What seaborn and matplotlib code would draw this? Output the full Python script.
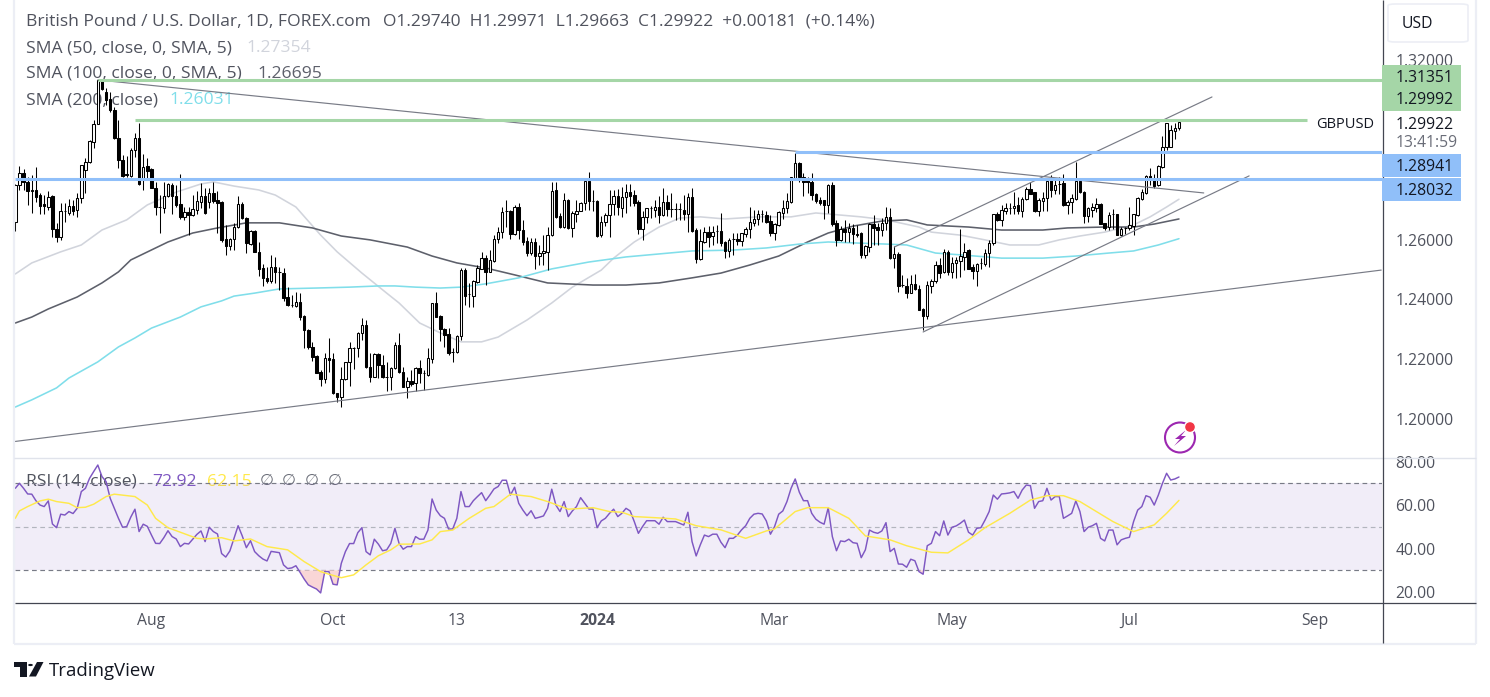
import matplotlib
matplotlib.use("Agg")
import matplotlib.pyplot as plt
from matplotlib.lines import Line2D
from matplotlib.patches import Circle, Ellipse, FancyBboxPatch, Polygon
import numpy as np
import seaborn as sns

# ---------- data ----------
opens = [
1.2660,1.2781,1.2822,1.2794,1.2764,1.2766,1.2749,1.2719,1.2710,1.2746,
1.2635,1.2610,1.2696,1.2690,1.2713,1.2699,1.2738,1.2833,1.2858,1.2928,
1.2986,1.3132,1.3092,1.3069,1.3034,1.2939,1.2866,1.2819,1.2814,1.2898,
1.2939,1.2800,1.2846,1.2836,1.2774,1.2708,1.2705,1.2746,1.2783,1.2746,
1.2718,1.2674,1.2691,1.2682,1.2699,1.2727,1.2746,1.2727,1.2755,1.2733,
1.2727,1.2601,1.2577,1.2601,1.2643,1.2718,1.2671,1.2586,1.2630,1.2560,
1.2506,1.2473,1.2463,1.2507,1.2491,1.2487,1.2409,1.2382,1.2378,1.2390,
1.2345,1.2298,1.2240,1.2211,1.2158,1.2134,1.2203,1.2201,1.2086,1.2075,
1.2134,1.2190,1.2236,1.2236,1.2287,1.2315,1.2173,1.2142,1.2218,1.2181,
1.2142,1.2142,1.2170,1.2248,1.2158,1.2108,1.2127,1.2119,1.2170,1.2153,
1.2147,1.2201,1.2387,1.2345,1.2300,1.2284,1.2225,1.2225,1.2276,1.2498,
1.2418,1.2412,1.2459,1.2503,1.2537,1.2493,1.2529,1.2601,1.2624,1.2694,
1.2696,1.2619,1.2708,1.2632,1.2596,1.2554,1.2591,1.2546,1.2554,1.2560,
1.2615,1.2766,1.2679,1.2641,1.2733,1.2638,1.2686,1.2695,1.2722,1.2796,
1.2730,1.2729,1.2614,1.2660,1.2682,1.2718,1.2746,1.2707,1.2742,1.2758,
1.2750,1.2726,1.2637,1.2674,1.2705,1.2699,1.2708,1.2683,1.2725,1.2703,
1.2703,1.2702,1.2699,1.2685,1.2742,1.2632,1.2534,1.2593,1.2627,1.2612,
1.2629,1.2629,1.2591,1.2563,1.2601,1.2602,1.2594,1.2619,1.2635,1.2655,
1.2668,1.2684,1.2683,1.2663,1.2621,1.2649,1.2690,1.2705,1.2727,1.2805,
1.2856,1.2811,1.2800,1.2794,1.2753,1.2733,1.2731,1.2716,1.2783,1.2655,
1.2599,1.2636,1.2624,1.2638,1.2618,1.2621,1.2549,1.2575,1.2651,1.2641,
1.2632,1.2655,1.2675,1.2538,1.2552,1.2449,1.2446,1.2423,1.2452,1.2434,
1.2367,1.2346,1.2446,1.2460,1.2515,1.2490,1.2560,1.2490,1.2523,1.2528,
1.2542,1.2565,1.2509,1.2496,1.2522,1.2520,1.2556,1.2589,1.2684,1.2665,
1.2696,1.2706,1.2704,1.2715,1.2696,1.2735,1.2769,1.2758,1.2696,1.2730,
1.2738,1.2799,1.2765,1.2786,1.2788,1.2715,1.2726,1.2737,1.2797,1.2760,
1.2679,1.2699,1.2704,1.2718,1.2654,1.2641,1.2684,1.2685,1.2615,1.2639,
1.2638,1.2646,1.2682,1.2735,1.2757,1.2812,1.2799,1.2782,1.2844,1.2908,
1.2910,1.2964,1.2974]
highs = [
1.2786,1.2846,1.2835,1.2811,1.2816,1.2842,1.2755,1.2749,1.2761,1.2749,
1.2655,1.2722,1.2722,1.2735,1.2733,1.2755,1.2850,1.2872,1.2933,1.3000,
1.3135,1.3135,1.3106,1.3095,1.3045,1.3000,1.2883,1.2878,1.2906,1.2956,
1.2991,1.2887,1.2872,1.2841,1.2794,1.2749,1.2792,1.2788,1.2788,1.2783,
1.2820,1.2710,1.2710,1.2749,1.2761,1.2788,1.2772,1.2772,1.2794,1.2761,
1.2730,1.2649,1.2604,1.2655,1.2746,1.2727,1.2677,1.2632,1.2632,1.2593,
1.2520,1.2510,1.2549,1.2541,1.2510,1.2504,1.2443,1.2415,1.2426,1.2423,
1.2348,1.2300,1.2259,1.2214,1.2164,1.2222,1.2270,1.2222,1.2088,1.2175,
1.2192,1.2259,1.2242,1.2290,1.2337,1.2331,1.2220,1.2220,1.2220,1.2214,
1.2192,1.2173,1.2259,1.2287,1.2175,1.2142,1.2164,1.2175,1.2197,1.2164,
1.2236,1.2389,1.2426,1.2348,1.2303,1.2303,1.2236,1.2281,1.2504,1.2504,
1.2454,1.2465,1.2515,1.2560,1.2549,1.2565,1.2615,1.2643,1.2710,1.2733,
1.2699,1.2716,1.2721,1.2666,1.2610,1.2604,1.2604,1.2582,1.2615,1.2643,
1.2794,1.2791,1.2688,1.2757,1.2735,1.2694,1.2733,1.2727,1.2800,1.2827,
1.2766,1.2733,1.2679,1.2690,1.2766,1.2766,1.2769,1.2775,1.2785,1.2786,
1.2766,1.2731,1.2694,1.2707,1.2713,1.2733,1.2746,1.2772,1.2749,1.2757,
1.2724,1.2722,1.2749,1.2757,1.2772,1.2638,1.2635,1.2641,1.2644,1.2644,
1.2649,1.2688,1.2594,1.2605,1.2621,1.2621,1.2623,1.2641,1.2708,1.2699,
1.2699,1.2699,1.2694,1.2683,1.2655,1.2694,1.2733,1.2755,1.2811,1.2890,
1.2861,1.2822,1.2811,1.2822,1.2757,1.2744,1.2733,1.2786,1.2794,1.2666,
1.2644,1.2666,1.2655,1.2653,1.2649,1.2627,1.2582,1.2657,1.2683,1.2655,
1.2671,1.2708,1.2707,1.2579,1.2557,1.2482,1.2471,1.2482,1.2484,1.2449,
1.2370,1.2460,1.2468,1.2527,1.2538,1.2568,1.2566,1.2543,1.2543,1.2634,
1.2589,1.2567,1.2520,1.2522,1.2537,1.2567,1.2598,1.2685,1.2693,1.2715,
1.2721,1.2721,1.2760,1.2743,1.2743,1.2777,1.2793,1.2760,1.2738,1.2760,
1.2805,1.2816,1.2799,1.2808,1.2821,1.2732,1.2752,1.2860,1.2799,1.2762,
1.2710,1.2721,1.2738,1.2723,1.2656,1.2693,1.2701,1.2687,1.2641,1.2643,
1.2708,1.2685,1.2741,1.2768,1.2816,1.2841,1.2821,1.2849,1.2946,1.2991,
1.2983,1.2989,1.2997]
lows = [
1.2630,1.2766,1.2766,1.2716,1.2690,1.2727,1.2686,1.2686,1.2699,1.2610,
1.2593,1.2599,1.2660,1.2683,1.2683,1.2675,1.2722,1.2755,1.2855,1.2906,
1.2985,1.3101,1.3050,1.3028,1.2936,1.2839,1.2811,1.2809,1.2811,1.2875,
1.2783,1.2766,1.2800,1.2772,1.2683,1.2621,1.2688,1.2744,1.2686,1.2710,
1.2668,1.2666,1.2616,1.2679,1.2686,1.2705,1.2686,1.2705,1.2722,1.2621,
1.2593,1.2549,1.2565,1.2565,1.2638,1.2668,1.2554,1.2582,1.2558,1.2478,
1.2445,1.2454,1.2454,1.2456,1.2432,1.2396,1.2378,1.2374,1.2374,1.2331,
1.2236,1.2233,1.2195,1.2153,1.2110,1.2119,1.2158,1.2084,1.2058,1.2039,
1.2131,1.2110,1.2166,1.2209,1.2264,1.2170,1.2125,1.2140,1.2136,1.2136,
1.2092,1.2097,1.2166,1.2155,1.2106,1.2071,1.2110,1.2092,1.2119,1.2097,
1.2144,1.2186,1.2340,1.2262,1.2242,1.2214,1.2189,1.2222,1.2264,1.2381,
1.2376,1.2376,1.2454,1.2501,1.2448,1.2490,1.2526,1.2590,1.2604,1.2643,
1.2602,1.2616,1.2602,1.2582,1.2545,1.2549,1.2502,1.2515,1.2515,1.2498,
1.2613,1.2671,1.2638,1.2638,1.2635,1.2610,1.2660,1.2694,1.2699,1.2699,
1.2697,1.2608,1.2610,1.2644,1.2610,1.2683,1.2683,1.2675,1.2690,1.2713,
1.2711,1.2619,1.2597,1.2655,1.2672,1.2675,1.2655,1.2679,1.2679,1.2675,
1.2666,1.2666,1.2664,1.2627,1.2627,1.2521,1.2532,1.2590,1.2575,1.2582,
1.2588,1.2577,1.2538,1.2543,1.2549,1.2582,1.2579,1.2608,1.2605,1.2644,
1.2649,1.2660,1.2655,1.2612,1.2599,1.2646,1.2668,1.2690,1.2724,1.2802,
1.2794,1.2746,1.2755,1.2731,1.2724,1.2716,1.2668,1.2688,1.2647,1.2577,
1.2596,1.2593,1.2593,1.2586,1.2610,1.2538,1.2538,1.2560,1.2582,1.2582,
1.2612,1.2632,1.2534,1.2504,1.2426,1.2443,1.2406,1.2421,1.2430,1.2363,
1.2298,1.2334,1.2421,1.2454,1.2471,1.2488,1.2482,1.2471,1.2471,1.2476,
1.2498,1.2500,1.2467,1.2444,1.2503,1.2511,1.2509,1.2582,1.2663,1.2645,
1.2687,1.2687,1.2687,1.2685,1.2676,1.2732,1.2752,1.2693,1.2679,1.2696,
1.2696,1.2741,1.2752,1.2754,1.2713,1.2685,1.2690,1.2734,1.2757,1.2656,
1.2660,1.2674,1.2693,1.2651,1.2632,1.2632,1.2637,1.2615,1.2612,1.2618,
1.2632,1.2615,1.2679,1.2732,1.2752,1.2782,1.2774,1.2779,1.2841,1.2899,
1.2908,1.2935,1.2966]
closes = [
1.2783,1.2822,1.2794,1.2764,1.2765,1.2744,1.2714,1.2714,1.2744,1.2635,
1.2610,1.2694,1.2694,1.2713,1.2694,1.2738,1.2850,1.2858,1.2930,1.2986,
1.3134,1.3103,1.3067,1.3032,1.2939,1.2866,1.2814,1.2815,1.2900,1.2939,
1.2786,1.2844,1.2830,1.2774,1.2708,1.2708,1.2747,1.2786,1.2746,1.2716,
1.2674,1.2691,1.2682,1.2701,1.2729,1.2746,1.2688,1.2755,1.2730,1.2724,
1.2599,1.2577,1.2601,1.2643,1.2718,1.2671,1.2588,1.2630,1.2560,1.2501,
1.2471,1.2463,1.2507,1.2490,1.2490,1.2404,1.2381,1.2381,1.2390,1.2342,
1.2296,1.2240,1.2209,1.2155,1.2134,1.2203,1.2197,1.2086,1.2075,1.2133,
1.2190,1.2236,1.2236,1.2287,1.2315,1.2173,1.2142,1.2218,1.2181,1.2139,
1.2139,1.2170,1.2248,1.2158,1.2108,1.2127,1.2117,1.2170,1.2153,1.2153,
1.2203,1.2387,1.2342,1.2300,1.2281,1.2220,1.2225,1.2278,1.2498,1.2412,
1.2418,1.2462,1.2504,1.2537,1.2493,1.2532,1.2601,1.2624,1.2691,1.2694,
1.2619,1.2710,1.2632,1.2593,1.2554,1.2593,1.2545,1.2554,1.2562,1.2615,
1.2764,1.2677,1.2643,1.2733,1.2638,1.2690,1.2695,1.2722,1.2796,1.2729,
1.2729,1.2612,1.2660,1.2683,1.2719,1.2746,1.2708,1.2742,1.2758,1.2747,
1.2724,1.2636,1.2675,1.2705,1.2706,1.2708,1.2683,1.2725,1.2703,1.2703,
1.2702,1.2701,1.2685,1.2742,1.2630,1.2534,1.2596,1.2625,1.2610,1.2627,
1.2629,1.2590,1.2563,1.2599,1.2601,1.2594,1.2621,1.2635,1.2658,1.2668,
1.2686,1.2684,1.2660,1.2621,1.2651,1.2692,1.2705,1.2730,1.2808,1.2856,
1.2808,1.2791,1.2791,1.2750,1.2729,1.2722,1.2716,1.2783,1.2651,1.2599,
1.2636,1.2624,1.2638,1.2619,1.2617,1.2549,1.2577,1.2651,1.2638,1.2632,
1.2657,1.2675,1.2538,1.2552,1.2446,1.2448,1.2423,1.2452,1.2434,1.2365,
1.2345,1.2448,1.2462,1.2515,1.2488,1.2560,1.2490,1.2523,1.2532,1.2546,
1.2559,1.2503,1.2496,1.2520,1.2523,1.2556,1.2589,1.2684,1.2667,1.2699,
1.2704,1.2707,1.2713,1.2696,1.2735,1.2769,1.2754,1.2696,1.2732,1.2738,
1.2797,1.2765,1.2784,1.2785,1.2715,1.2726,1.2738,1.2797,1.2760,1.2679,
1.2704,1.2708,1.2718,1.2652,1.2640,1.2682,1.2684,1.2617,1.2637,1.2640,
1.2648,1.2684,1.2738,1.2760,1.2812,1.2801,1.2779,1.2846,1.2910,1.2989,
1.2966,1.2974,1.2992]

sma50_bars = [0,4,11,16,21,27,32,39,45,48,53,59,63,68,74,78,84,90,93,98,103,108,113,117,124,130,135,142,145,150,156,161,166,172,180,188,194,200,205,211,219,222,229,235,241,248,253,258,264,271,275,279,282]
sma50_vals = [1.2485,1.2522,1.2559,1.2582,1.2632,1.2666,1.2716,1.2759,1.2786,1.2793,1.2779,1.2766,1.2749,1.2709,1.2615,1.2559,1.2488,1.2421,1.2388,1.2321,1.2288,1.2258,1.2258,1.2274,1.2331,1.2388,1.2441,1.2498,1.2538,1.2592,1.2642,1.2672,1.2676,1.2669,1.2676,1.2676,1.2689,1.2682,1.2676,1.2666,1.2642,1.2625,1.2615,1.2599,1.2582,1.2582,1.2599,1.2612,1.2625,1.2649,1.2676,1.2709,1.2735]
sma100_bars = [0,4,8,15,21,25,28,37,43,49,56,64,72,79,86,95,101,107,114,121,129,140,148,156,164,171,178,185,192,197,203,210,216,221,231,239,249,255,264,271,276,282]
sma100_vals = [1.2321,1.2341,1.2368,1.2408,1.2455,1.2492,1.2532,1.2592,1.2622,1.2639,1.2656,1.2656,1.2639,1.2612,1.2599,1.2575,1.2545,1.2522,1.2505,1.2482,1.2455,1.2448,1.2448,1.2455,1.2472,1.2488,1.2515,1.2545,1.2592,1.2622,1.2645,1.2662,1.2666,1.2649,1.2642,1.2632,1.2632,1.2639,1.2642,1.2642,1.2652,1.2669]
sma200_bars = [0,4,10,13,20,25,29,33,40,45,50,53,58,64,73,81,88,92,97,103,108,114,122,130,139,148,156,164,174,182,190,197,203,211,216,223,229,239,249,257,265,271,277,282]
sma200_vals = [1.2040,1.2064,1.2104,1.2137,1.2191,1.2241,1.2271,1.2304,1.2341,1.2375,1.2395,1.2411,1.2421,1.2435,1.2438,1.2441,1.2445,1.2445,1.2441,1.2438,1.2441,1.2452,1.2472,1.2502,1.2525,1.2542,1.2552,1.2562,1.2565,1.2572,1.2585,1.2592,1.2589,1.2585,1.2582,1.2555,1.2549,1.2538,1.2538,1.2545,1.2555,1.2562,1.2582,1.2603]

rsi_vals = [
67.7,70.0,67.7,65.1,65.0,62.0,60.0,59.3,61.9,51.3,49.6,55.8,55.4,57.0,56.1,58.5,66.2,67.7,72.3,75.4,
78.4,73.1,70.8,63.1,58.5,53.9,49.8,50.1,54.5,58.1,47.8,51.2,50.2,46.2,42.4,42.3,45.0,48.2,45.5,44.4,
40.9,42.4,42.1,44.3,46.5,48.1,43.2,49.8,47.8,46.7,37.7,36.1,38.9,44.7,50.5,45.8,40.4,43.6,38.6,36.7,
35.2,34.3,38.7,38.4,38.1,32.5,30.8,31.1,32.1,29.1,26.0,23.3,22.3,21.4,19.6,29.4,29.4,23.6,23.3,33.2,
38.6,42.3,42.3,47.3,49.6,38.6,37.1,44.3,42.0,39.0,39.4,42.4,49.3,42.4,39.7,40.9,40.9,45.5,44.3,44.3,
48.5,62.8,57.7,55.1,53.9,49.0,49.0,53.9,66.2,59.3,59.3,62.0,63.9,65.7,62.0,64.6,67.4,68.5,71.4,71.4,
64.6,68.2,60.8,57.7,55.1,57.4,53.9,54.4,55.0,58.5,67.3,60.0,57.0,61.6,54.7,57.3,59.3,63.4,60.8,58.2,
58.1,49.6,52.7,53.9,56.2,58.1,54.7,56.2,58.5,57.3,52.4,47.0,50.1,52.8,52.8,52.8,51.2,54.4,52.4,52.4,
52.4,51.6,50.8,56.7,43.2,36.6,41.7,46.2,45.5,46.6,46.6,42.9,40.4,44.7,44.7,46.2,48.6,50.5,53.9,55.8,
56.2,55.9,52.7,46.6,50.1,55.8,57.3,61.6,67.7,72.0,65.9,62.0,62.0,56.2,53.5,52.1,51.2,58.8,45.5,39.0,
43.5,43.2,44.3,42.7,42.4,35.8,39.4,48.5,47.5,47.0,48.1,51.9,38.6,40.1,32.9,32.8,31.4,35.1,34.4,29.4,
28.2,41.3,42.4,47.8,45.9,52.7,46.2,49.8,50.4,51.6,53.1,47.5,46.2,49.3,49.6,53.1,57.0,64.6,62.7,65.1,
65.3,65.6,66.2,63.1,66.9,69.2,68.9,58.5,61.6,62.0,67.7,62.3,63.9,63.9,53.9,55.0,56.2,61.9,57.0,47.8,
49.8,50.5,51.6,44.7,43.5,48.5,48.5,41.7,44.0,44.7,45.2,52.4,57.7,59.3,64.3,63.6,60.0,64.6,70.0,74.6,
71.5,72.0,72.9]
rsi_ma_bars = [0,1,3,6,8,10,13,15,17,19,22,24,29,32,34,37,40,44,46,50,53,57,61,66,70,74,76,79,82,85,88,91,93,98,101,103,106,110,114,116,120,125,129,134,140,144,147,150,155,160,165,171,177,182,184,189,192,197,202,206,212,216,222,226,231,235,241,246,250,254,258,262,266,271,276,279,282]
rsi_ma_vals = [53.9,57.3,59.3,61.9,62.7,61.6,60.8,58.8,59.0,60.4,63.9,65.0,63.9,60.0,53.9,49.6,47.5,44.7,44.4,45.0,43.5,44.4,40.9,39.4,34.0,29.4,28.2,26.6,27.9,32.5,36.7,39.4,42.0,42.1,44.0,47.8,48.5,53.9,58.5,59.3,65.0,63.9,61.6,58.1,58.8,57.0,56.7,54.7,54.2,53.6,50.5,48.6,44.7,48.1,49.0,57.0,58.8,58.8,53.9,45.8,44.0,41.3,38.3,38.0,44.0,49.6,56.2,62.3,64.3,64.3,61.6,57.0,52.4,47.8,50.9,56.2,62.15]

down_line_bars, down_line_vals = [20, 288], [1.3134, 1.2756]
upper_line_bars, upper_line_vals = [213, 290], [1.2575, 1.3077]
lower_line_bars, lower_line_vals = [220, 299], [1.2291, 1.2813]
long_line_bars, long_line_vals = [0, 331], [1.1925, 1.2498]

green_levels = [1.31351, 1.29992]
green_starts = [20, 29]
green_ends = [332, 313]
blue_levels = [1.28941, 1.28032]
blue_starts = [189, 0]

price_ticks = [1.20, 1.22, 1.24, 1.26, 1.32]
price_tick_labels = ["1.20000", "1.22000", "1.24000", "1.26000", "1.32000"]
rsi_ticks = [20, 40, 60, 80]
rsi_tick_labels = ["20.00", "40.00", "60.00", "80.00"]
time_ticks = [33, 77, 107, 141, 184, 227, 270, 315]
time_tick_labels = ["Aug", "Oct", "13", "2024", "Mar", "May", "Jul", "Sep"]

# ---------- figure ----------
W, H = 1490, 697
sns.set_theme(style="white")
plt.rcParams["font.family"] = ["Open Sans", "DejaVu Sans"]
plt.rcParams["lines.solid_joinstyle"] = "round"
fig = plt.figure(figsize=(W / 100, H / 100), dpi=100, facecolor="white")


def rect(x0, y0, x1, y1):
    return [x0 / W, 1 - y1 / H, (x1 - x0) / W, (y1 - y0) / H]


ax = fig.add_axes(rect(15, 0, 1382, 457))
ax_r = fig.add_axes(rect(15, 458, 1382, 602))
ax.patch.set_visible(False)
ax_r.patch.set_visible(False)
XLIM = (-0.07, 331.2)
TEXT = "#50535e"
AXIS_FS = 11.3
LEG_FS = 12.6

bars = np.arange(len(closes))
o, h, l, c = map(np.array, (opens, highs, lows, closes))

# candles
ax.vlines(bars, l, h, color="#000000", lw=0.75, zorder=3)
up = c >= o
ax.bar(bars, np.abs(c - o), bottom=np.minimum(o, c), width=0.6,
       color=np.where(up, "white", "black"), edgecolor="black", linewidth=0.75, zorder=4)

# moving averages
for bx, val, col in [(sma50_bars, sma50_vals, "#d1d4dc"),
                     (sma100_bars, sma100_vals, "#5d606b"),
                     (sma200_bars, sma200_vals, "#80deea")]:
    sns.lineplot(x=bx, y=val, ax=ax, color=col, lw=1.15, errorbar=None, legend=False, zorder=2)

# trend lines
for bx, val in [(down_line_bars, down_line_vals), (upper_line_bars, upper_line_vals),
                (lower_line_bars, lower_line_vals), (long_line_bars, long_line_vals)]:
    sns.lineplot(x=bx, y=val, ax=ax, color="#787b86", lw=0.85, errorbar=None, legend=False, zorder=5)

# horizontal levels
ax.hlines(green_levels, green_starts, green_ends, color="#a5d6a7", lw=2.2, zorder=5)
ax.hlines(blue_levels, blue_starts, 332, color="#90bff9", lw=2.2, zorder=5)

ax.set_xlim(*XLIM)
ax.set_ylim(1.18729, 1.34013)
ax.set_xlabel("")
ax.set_ylabel("")
ax.set_xticks([])
ax.yaxis.tick_right()
ax.set_yticks(price_ticks)
ax.set_yticklabels(price_tick_labels, fontsize=AXIS_FS, color=TEXT)
ax.tick_params(axis="y", length=0, pad=9.5)
for s in ax.spines.values():
    s.set_visible(False)

# RSI
ax_r.axhspan(30, 70, color="#7e57c2", alpha=0.1, lw=0, zorder=0)
for lev, col in [(70, "#787b86"), (50, "#b2b5be"), (30, "#787b86")]:
    ax_r.axhline(lev, color=col, lw=0.85, dashes=(4, 3), zorder=1)
rsi = np.array(rsi_vals)
ax_r.fill_between(bars, rsi, 30, where=rsi < 30, interpolate=True, color="#f9d6d6", lw=0, zorder=1)
sns.lineplot(x=bars, y=rsi, ax=ax_r, color="#7e57c2", lw=1.05, errorbar=None, legend=False, zorder=3)
sns.lineplot(x=rsi_ma_bars, y=rsi_ma_vals, ax=ax_r, color="#ffe94a", lw=1.05, errorbar=None, legend=False, zorder=4)
ax_r.set_xlim(*XLIM)
ax_r.set_ylim(15.43, 81.63)
ax_r.set_xlabel("")
ax_r.set_ylabel("")
ax_r.yaxis.tick_right()
ax_r.set_yticks(rsi_ticks)
ax_r.set_yticklabels(rsi_tick_labels, fontsize=AXIS_FS, color=TEXT)
ax_r.tick_params(axis="y", length=0, pad=9.5)
ax_r.set_xticks(time_ticks)
ax_r.set_xticklabels(time_tick_labels, fontsize=AXIS_FS, color=TEXT)
ax_r.tick_params(axis="x", length=0, pad=8)
for lab in ax_r.get_xticklabels():
    if lab.get_text() == "2024":
        lab.set_fontweight("bold")
for s in ax_r.spines.values():
    s.set_visible(False)


# ---------- frame ----------
def fline(x0, y0, x1, y1, col, lw):
    fig.add_artist(Line2D([x0 / W, x1 / W], [1 - y0 / H, 1 - y1 / H], color=col, lw=lw,
                          transform=fig.transFigure, solid_capstyle="butt"))


PALE = "#eceef5"
fline(14, 0, 14, 644, PALE, 1.6)
fline(1476, 0, 1476, 644, PALE, 1.6)
fline(14, 644, 1476, 644, PALE, 1.6)
fline(14, 457.5, 1476, 457.5, "#e0e3eb", 1.0)
fline(1382.5, 0, 1382.5, 643, "#434651", 0.9)
fline(15, 602.5, 1476, 602.5, "#434651", 0.9)


def ftext(x, y, s, col=TEXT, size=LEG_FS, z=10, **kw):
    kw.setdefault("va", "center")
    return fig.text(x / W, 1 - y / H, s, color=col, fontsize=size, zorder=z, **kw)


def fbox(x0, y0, x1, y1, col):
    fig.add_artist(FancyBboxPatch((x0 / W, 1 - y1 / H), (x1 - x0) / W, (y1 - y0) / H,
                                  boxstyle="square,pad=0", fc=col, ec="none",
                                  transform=fig.transFigure, zorder=6))


# price labels
fbox(1382, 65, 1461, 110.5, "#a5d6a7")
fbox(1382, 154, 1461, 177, "#90bff9")
fbox(1382, 178, 1461, 201, "#90bff9")
DARK = "#131722"
ftext(1396, 78, "1.31351", DARK, AXIS_FS)
ftext(1396, 100, "1.29992", DARK, AXIS_FS)
ftext(1396, 125, "1.29922", DARK, AXIS_FS)
ftext(1396, 143, "13:41:59", "#6a6d78", AXIS_FS)
ftext(1396, 167, "1.28941", DARK, AXIS_FS)
ftext(1396, 191, "1.28032", DARK, AXIS_FS)
ftext(1316, 125, "GBPUSD", DARK, 10.5)

# USD button
fig.add_artist(FancyBboxPatch((1388 / W, 1 - 42 / H), 80 / W, 38 / H,
                              boxstyle="round,pad=0,rounding_size=0.005", fc="white", ec="#eceef5", lw=1.2,
                              mutation_aspect=H / W, transform=fig.transFigure, zorder=6))
ftext(1402, 24, "USD", DARK, AXIS_FS)

# legends (drawn beneath the marks, as in the reference)
ftext(26, 21.5, "British Pound / U.S. Dollar, 1D, FOREX.com", TEXT, LEG_FS, z=-1)
ftext(383, 21.5, "O1.29740  H1.29971  L1.29663  C1.29922  +0.00181  (+0.14%)", TEXT, LEG_FS - 0.1, z=-1)
ftext(26, 48.5, "SMA (50, close, 0, SMA, 5)", TEXT, LEG_FS, z=-1)
ftext(246, 48.5, "1.27354", "#d1d4dc", LEG_FS, z=-1)
ftext(26, 74, "SMA (100, close, 0, SMA, 5)", TEXT, LEG_FS, z=-1)
ftext(257, 74, "1.26695", "#5d606b", LEG_FS, z=-1)
ftext(26, 100.5, "SMA (200, close)", TEXT, LEG_FS, z=-1)
ftext(169, 100.5, "1.26031", "#80deea", LEG_FS, z=-1)
ftext(26, 482, "RSI (14, close)", TEXT, LEG_FS, z=-1)
ftext(152, 482, "72.92", "#7e57c2", LEG_FS, z=-1)
ftext(207, 482, "62.15", "#ffe94a", LEG_FS, z=-1)
for xp in (267, 289, 312, 335):
    ftext(xp, 481, "\u2205", "#6a6d78", 11.5, z=-1, ha="center")


# logo (real text + simple shapes)
def fpoly(pts, col):
    fig.add_artist(Polygon([(x / W, 1 - y / H) for x, y in pts], closed=True, fc=col, ec="none",
                           transform=fig.transFigure, zorder=8))


fpoly([(14, 662), (27, 662), (27, 676.5), (19.5, 676.5), (19.5, 667), (14, 667)], DARK)
fpoly([(37, 662), (43.5, 662), (36, 676.5), (29, 676.5)], DARK)
fig.add_artist(Circle((30.5 / W, 1 - 665 / H), 0.0016, fc=DARK, ec="none",
                      transform=fig.transFigure, zorder=8))
ftext(49, 671.5, "TradingView", DARK, 13.4)

# snapshot badge
fig.add_artist(Ellipse((1180 / W, 1 - 437.5 / H), 30 / W, 30 / H, fc="white", ec="#9c27b0",
                       lw=1.5, transform=fig.transFigure, zorder=8))
fpoly([(1186, 430), (1175, 439), (1180, 439), (1174, 446), (1186, 436), (1181, 436)], "#9c27b0")
fig.add_artist(Ellipse((1190 / W, 1 - 427 / H), 11 / W, 11 / H, fc="#f23645", ec="white",
                       lw=1.0, transform=fig.transFigure, zorder=9))

fig.savefig("out.png", dpi=100, facecolor="white")
